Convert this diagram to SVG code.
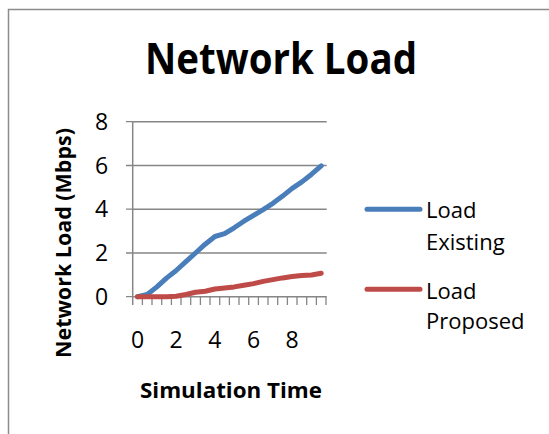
<svg xmlns="http://www.w3.org/2000/svg" width="549" height="434" viewBox="0 0 549 434">
<style>
  .frame{fill:#ffffff;stroke:#8c8c8c;stroke-width:1.5}
  .grid{stroke:#868686;stroke-width:1.5;fill:none}
  .tick{stroke:#868686;stroke-width:1.3;fill:none}
  .lbl{font-family:"Open Sans","Liberation Sans",sans-serif;font-size:23px;fill:#000}
  .leg{font-family:"Open Sans","Liberation Sans",sans-serif;font-size:22px;fill:#000}
  .ttl{font-family:"Open Sans","Liberation Sans",sans-serif;font-weight:bold;fill:#000}
  .series{fill:none;stroke-width:5;stroke-linecap:round;stroke-linejoin:round}
  .blue{stroke:#4a7ebb}
  .red{stroke:#be4b48}
</style>
<rect width="549" height="434" fill="#ffffff"/>
<rect class="frame" x="8.5" y="9.5" width="600" height="500"/>
<g id="title">
  <text class="ttl" x="281" y="74" font-size="43" text-anchor="middle" textLength="272" lengthAdjust="spacingAndGlyphs">Network Load</text>
</g>
<g id="plot-grid">
  <line class="grid" x1="132.7" y1="121.7" x2="326.7" y2="121.7"/>
  <line class="grid" x1="132.7" y1="165.5" x2="326.7" y2="165.5"/>
  <line class="grid" x1="132.7" y1="209.2" x2="326.7" y2="209.2"/>
  <line class="grid" x1="132.7" y1="253" x2="326.7" y2="253"/>
  <line class="grid" x1="132.7" y1="296.7" x2="326.7" y2="296.7"/>
  <line class="grid" x1="132.7" y1="121.7" x2="132.7" y2="305"/>
  <path class="tick" d="M126 121.7H132.7M126 165.5H132.7M126 209.2H132.7M126 253H132.7M126 296.7H132.7"/>
  <path class="tick" d="M142.4 296.7V305M152 296.7V305M161.7 296.7V305M171.4 296.7V305M181 296.7V305M190.7 296.7V305M200.4 296.7V305M210 296.7V305M219.7 296.7V305M229.4 296.7V305M239 296.7V305M248.7 296.7V305M258.4 296.7V305M268 296.7V305M277.7 296.7V305M287.4 296.7V305M297 296.7V305M306.7 296.7V305M316.4 296.7V305M326 296.7V305"/>
</g>
<g id="y-axis-labels">
  <text class="lbl" x="101.7" y="130" text-anchor="middle">8</text>
  <text class="lbl" x="101.7" y="173.5" text-anchor="middle">6</text>
  <text class="lbl" x="101.7" y="217.3" text-anchor="middle">4</text>
  <text class="lbl" x="101.7" y="261.2" text-anchor="middle">2</text>
  <text class="lbl" x="101.7" y="305" text-anchor="middle">0</text>
</g>
<g id="x-axis-labels">
  <text class="lbl" x="137.5" y="347.7" text-anchor="middle">0</text>
  <text class="lbl" x="176.2" y="347.7" text-anchor="middle">2</text>
  <text class="lbl" x="214.9" y="347.7" text-anchor="middle">4</text>
  <text class="lbl" x="253.6" y="347.7" text-anchor="middle">6</text>
  <text class="lbl" x="292.2" y="347.7" text-anchor="middle">8</text>
</g>
<g id="axis-titles">
  <text class="ttl" x="231" y="398" font-size="22" text-anchor="middle" textLength="182" lengthAdjust="spacingAndGlyphs">Simulation Time</text>
  <text class="ttl" transform="translate(70.5,243) rotate(-90)" x="0" y="0" font-size="20.5" text-anchor="middle" textLength="230" lengthAdjust="spacingAndGlyphs">Network Load (Mbps)</text>
</g>
<g id="connectors">
  <polyline id="series-existing" class="series blue" points="137.5,296.7 147.2,294.5 156.9,286.9 166.5,278.1 176.2,270.5 185.9,261.7 195.5,253 205.2,244.2 214.9,236.5 224.6,233.7 234.2,227.8 243.9,221.2 253.6,215.3 263.2,209.6 272.9,203.3 282.6,196.1 292.2,188.4 301.9,181.9 311.6,174.2 321.2,165.9"/>
  <polyline id="series-proposed" class="series red" points="137.5,296.7 147.2,296.7 156.9,296.7 166.5,296.7 176.2,296.3 185.9,294.5 195.5,292.3 205.2,291.2 214.9,289 224.6,287.9 234.2,286.9 243.9,285.3 253.6,283.6 263.2,281.4 272.9,279.6 282.6,277.9 292.2,276.6 301.9,275.5 311.6,275 321.2,273.3"/>
</g>
<g id="legend">
  <line class="series blue" x1="367" y1="209.3" x2="420" y2="209.3"/>
  <text class="leg" x="426" y="217.5">Load</text>
  <text class="leg" x="426" y="250">Existing</text>
  <line class="series red" x1="367" y1="289.3" x2="420" y2="289.3"/>
  <text class="leg" x="426" y="298.5">Load</text>
  <text class="leg" x="426" y="329">Proposed</text>
</g>
</svg>
